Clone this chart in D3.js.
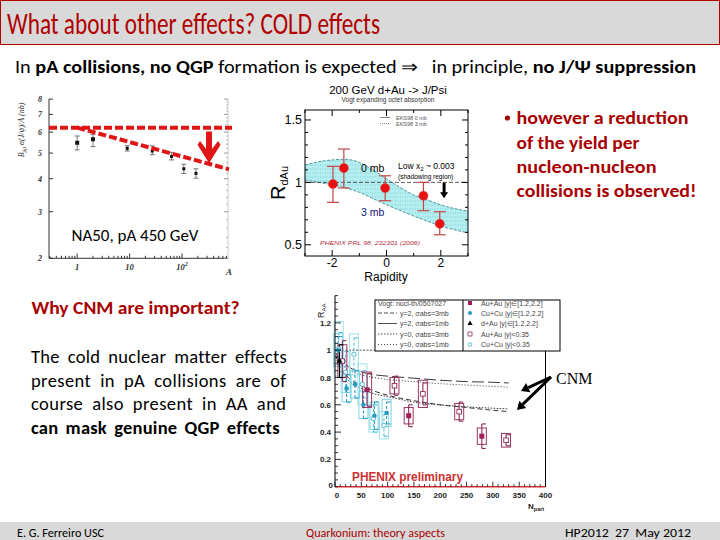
<!DOCTYPE html>
<html><head><meta charset="utf-8">
<script src="https://cdn.jsdelivr.net/npm/d3@7"></script>
<style>body{margin:0;background:#fff}svg{display:block}text{white-space:pre}</style>
</head><body>
<script>
// ================= DATA =================
const titleText = "What about other effects? COLD effects";
const subtitleParts = [["In ", false], ["pA collisions, no QGP", true], [" formation is expected ", false], ["\u21D2", false], ["   in principle, ", false], ["no J/\u03A8 suppression", true]];
const rightLines = ["however a reduction", "of the yield per", "nucleon-nucleon", "collisions is observed!"];
const leftHeading = "Why CNM are important?";
const leftLines = ["The cold nuclear matter effects", "present in pA collisions are of", "course also present in AA and", "can mask genuine QGP effects"];
const footer = ["E. G. Ferreiro USC", "Quarkonium: theory aspects", "HP2012  27  May 2012"];

// NA50 p-A 450 GeV
const na50A   = [1, 2, 9, 27, 63, 108, 184];
const na50Val = [5.47, 5.64, 5.21, 5.09, 4.85, 4.36, 4.19];
const na50Lo  = [5.14, 5.29, 5.09, 4.93, 4.71, 4.19, 4.02];
const na50Hi  = [5.80, 5.89, 5.33, 5.32, 5.03, 4.54, 4.36];
const na50YTicks = [2, 3, 4, 5, 6, 7, 8];
const na50XTicks = [1, 10, 100];
const na50XLabels = ["1", "10", "10"];
const na50RefA = [0.29, 896], na50RefV = [6.24, 6.24];
const na50TrendA = [1, 785], na50TrendV = [6.24, 4.34];
const na50ArrowA = 327, na50ArrowV = [6.03, 4.58];

// PHENIX d+Au RdAu vs rapidity
const dauY  = [-1.97, -1.57, -0.05, 1.36, 1.96];
const dauR  = [0.987, 1.115, 0.955, 0.893, 0.668];
const dauLo = [0.84, 0.955, 0.853, 0.773, 0.58];
const dauHi = [1.128, 1.267, 1.053, 1.0, 0.765];
const bandY    = [-3, -2.5, -2, -1.5, -1, -0.5, 0, 0.5, 1, 1.5, 2, 2.5, 3];
const band0mb  = [1.14, 1.165, 1.18, 1.185, 1.16, 1.1, 1.03, 0.96, 0.9, 0.86, 0.82, 0.79, 0.77];
const band3mb  = [1.02, 1.0, 0.98, 0.955, 0.92, 0.87, 0.82, 0.775, 0.73, 0.69, 0.65, 0.62, 0.595];
const dauYTicks = [0.5, 1, 1.5];
const dauXTicks = [-2, 0, 2];
const dauArrowY = 2.12, dauArrowR = [0.998, 0.872];

// PHENIX RAA vs Npart
const npCurveX = [2, 10, 25, 50, 75, 100, 150, 200, 250, 300, 330];
const y2_1mb = [0.98, 0.93, 0.88, 0.84, 0.82, 0.81, 0.795, 0.78, 0.77, 0.765, 0.76];
const y0_1mb = [0.97, 0.91, 0.86, 0.82, 0.80, 0.785, 0.77, 0.755, 0.745, 0.735, 0.73];
const y2_3mb = [0.96, 0.87, 0.80, 0.74, 0.70, 0.67, 0.63, 0.60, 0.58, 0.56, 0.55];
const y0_3mb = [0.95, 0.85, 0.78, 0.72, 0.68, 0.66, 0.62, 0.60, 0.585, 0.575, 0.57];
const auFwdN = [61, 140, 279],       auFwdR = [0.71, 0.52, 0.37],          auFwdE = [0.12, 0.08, 0.09],          auFwdS = [0.13, 0.06, 0.06];
const auMidN = [14, 113, 167, 236, 325], auMidR = [0.92, 0.74, 0.68, 0.55, 0.34], auMidE = [0.15, 0.07, 0.08, 0.07, 0.04], auMidS = [0.12, 0.06, 0.1, 0.06, 0.05];
const cuFwdN = [6, 22, 38, 54, 75, 98],  cuFwdR = [1.0, 0.72, 0.75, 0.6, 0.52, 0.54], cuFwdE = [0.1, 0.1, 0.1, 0.1, 0.1, 0.08], cuFwdS = [0.12, 0.1, 0.1, 0.1, 0.1, 0.1];
const cuMidN = [7, 20, 36, 52, 73, 93],  cuMidR = [1.01, 0.84, 0.97, 0.75, 0.5, 0.45], cuMidE = [0.12, 0.15, 0.12, 0.1, 0.1, 0.08], cuMidS = [0.2, 0.15, 0.15, 0.15, 0.1, 0.1];
const dAuN = [8.5], dAuR = [0.92], dAuE = [0.12];
const npXTicks = [0, 50, 100, 150, 200, 250, 300, 350, 400];
const npYTicks = [0.2, 0.4, 0.6, 0.8, 1, 1.2];
const legLeft = ["Vogt: nucl-th/0507027", "y=2, \u03C3abs=3mb", "y=2, \u03C3abs=1mb", "y=0, \u03C3abs=3mb", "y=0, \u03C3abs=1mb"];
const legRight = ["Au+Au |y|\u2208[1.2,2.2]", "Cu+Cu |y|\u2208[1.2,2.2]", "d+Au |y|\u2208[1.2,2.2]", "Au+Au |y|<0.35", "Cu+Cu |y|<0.35"];

// ================= DRAW =================
const SL = "Carlito, Calibri, Lato, 'Open Sans', sans-serif";
const AR = "'Liberation Sans', Arial, sans-serif";
const SER = "'Liberation Serif', 'DejaVu Serif', serif";
const RED = "#a80000";
const svg = d3.select("body").append("svg").attr("width", 720).attr("height", 540);

function T(g, x, y, s, o = {}) {
  const t = g.append("text").attr("x", x).attr("y", y).text(s)
    .attr("font-family", o.font || SL).attr("font-size", o.size || 12)
    .attr("fill", o.fill || "#000").attr("text-anchor", o.anchor || "start");
  if (o.weight) t.attr("font-weight", o.weight);
  if (o.style) t.attr("font-style", o.style);
  if (o.len) t.attr("textLength", o.len).attr("lengthAdjust", o.adj || "spacingAndGlyphs");
  return t;
}
function J(g, x, y, s, target, o = {}) {
  const t = T(g, x, y, s, o);
  const w = t.node().getComputedTextLength();
  const n = (s.match(/ /g) || []).length;
  if (n > 0 && w < target) {
    const extra = target - w;
    // share the gap between letter spacing and word spacing
    const chars = s.length - 1;
    t.attr("letter-spacing", (extra * 0.35) / chars).attr("word-spacing", (extra * 0.65) / n);
  } else if (w > target) t.attr("textLength", target).attr("lengthAdjust", "spacingAndGlyphs");
  return t;
}

// Title bar
svg.append("rect").attr("x", 0.5).attr("y", 0.5).attr("width", 719).attr("height", 44)
  .attr("fill", "#d9d9d9").attr("stroke", "#b00000").attr("stroke-width", 1);
T(svg, 7, 34, titleText, {size: 30, fill: "#b00000", len: 373});

// Subtitle
{
  const t = svg.append("text").attr("x", 15).attr("y", 73).attr("font-family", SL).attr("font-size", 18)
    .attr("textLength", 681).attr("lengthAdjust", "spacingAndGlyphs");
  subtitleParts.forEach(([s, b]) => t.append("tspan").text(s).attr("font-weight", b ? "bold" : "normal"));
}

// Right red text
svg.append("circle").attr("cx", 507.5).attr("cy", 118).attr("r", 2.6).attr("fill", RED);
const rlY = [124, 149, 173, 197], rlLen = [172, 123, 140, 180];
rightLines.forEach((s, i) => T(svg, 516.5, rlY[i], s, {size: 18, weight: "bold", fill: RED, len: rlLen[i]}));

// Left text
T(svg, 31.5, 314, leftHeading, {size: 17, weight: "bold", fill: RED, len: 208});
const llY = [363, 387, 410, 434], llLen = [255, 255, 255, 248];
leftLines.forEach((s, i) => J(svg, 31, llY[i], s, llLen[i], {size: 18.5, weight: i === 3 ? "bold" : "normal"}));

// Footer
svg.append("rect").attr("x", 0).attr("y", 522).attr("width", 720).attr("height", 18).attr("fill", "#d9d9d9");
T(svg, 17, 537, footer[0], {size: 12.5, len: 87});
T(svg, 306, 537, footer[1], {size: 12.5, fill: RED, len: 139});
T(svg, 565, 537, footer[2], {size: 12.5, len: 126});

// ============ NA50 plot ============
{
  const g = svg.append("g");
  const x = d3.scaleLog().domain([0.29, 752]).range([49, 228]);
  const y = d3.scaleLog().domain([2, 8]).range([258.3, 99.1]);
  const ax = "#333";
  g.append("line").attr("x1", 49).attr("x2", 49).attr("y1", 99).attr("y2", 258.3).attr("stroke", ax);
  g.append("line").attr("x1", 49).attr("x2", 228).attr("y1", 258.3).attr("y2", 258.3).attr("stroke", ax);
  g.append("line").attr("x1", 228).attr("x2", 228).attr("y1", 99).attr("y2", 258.3).attr("stroke", "#ccc");
  na50YTicks.forEach(v => {
    g.append("line").attr("x1", 49).attr("x2", 53).attr("y1", y(v)).attr("y2", y(v)).attr("stroke", ax);
    g.append("line").attr("x1", 224).attr("x2", 228).attr("y1", y(v)).attr("y2", y(v)).attr("stroke", "#999");
    T(g, 42, y(v) + 3, String(v), {font: SER, size: 8, style: "italic", weight: "bold", anchor: "end", fill: "#333"});
  });
  const yMinor = d3.range(2.2, 8, 0.2).filter(v => Math.abs(v - Math.round(v)) > 0.05);
  yMinor.forEach(v => g.append("line").attr("x1", 226).attr("x2", 228).attr("y1", y(v)).attr("y2", y(v)).attr("stroke", "#bbb"));
  const xMinor = [];
  [0.1, 1, 10, 100].forEach(d => d3.range(2, 10).forEach(k => { const v = d * k; if (v > 0.29 && v < 752) xMinor.push(v); }));
  xMinor.forEach(v => g.append("line").attr("x1", x(v)).attr("x2", x(v)).attr("y1", 258.3).attr("y2", 255.8).attr("stroke", ax));
  na50XTicks.forEach((v, i) => {
    g.append("line").attr("x1", x(v)).attr("x2", x(v)).attr("y1", 258.3).attr("y2", 253.5).attr("stroke", ax);
    const t = T(g, x(v), 270, na50XLabels[i], {font: SER, size: 8.5, style: "italic", weight: "bold", anchor: "middle", fill: "#333"});
    if (i === 2) t.append("tspan").attr("dy", -4).attr("font-size", 6).text("2");
  });
  T(g, 229, 275, "A", {font: SER, size: 9, style: "italic", weight: "bold", anchor: "middle", fill: "#333"});
  const yl = g.append("text").attr("transform", "translate(24,130) rotate(-90)").attr("text-anchor", "middle")
    .attr("font-family", SER).attr("font-size", 8).attr("font-style", "italic").attr("fill", "#333");
  yl.append("tspan").text("B");
  yl.append("tspan").attr("dy", 2).attr("font-size", 5.5).text("\u03BC\u03BC");
  yl.append("tspan").attr("dy", -2).text(" \u03C3(J/\u03C8)/A (nb)");
  na50A.forEach((a, i) => {
    g.append("line").attr("x1", x(a)).attr("x2", x(a)).attr("y1", y(na50Lo[i])).attr("y2", y(na50Hi[i])).attr("stroke", "#555").attr("stroke-width", 0.8);
    [na50Lo[i], na50Hi[i]].forEach(v => g.append("line").attr("x1", x(a) - 2.5).attr("x2", x(a) + 2.5).attr("y1", y(v)).attr("y2", y(v)).attr("stroke", "#555").attr("stroke-width", 0.8));
    const s = i < 2 ? 4 : 3;
    g.append("rect").attr("x", x(a) - s / 2).attr("y", y(na50Val[i]) - s / 2).attr("width", s).attr("height", s).attr("fill", "#111");
  });
  const ln = d3.line().x(d => x(d[0])).y(d => y(d[1]));
  g.append("path").attr("d", ln(na50RefA.map((a, i) => [a, na50RefV[i]]))).attr("stroke", "#e01515").attr("stroke-width", 4).attr("stroke-dasharray", "8,3").attr("fill", "none");
  g.append("path").attr("d", ln(na50TrendA.map((a, i) => [a, na50TrendV[i]]))).attr("stroke", "#e01515").attr("stroke-width", 4).attr("stroke-dasharray", "8,3").attr("fill", "none");
  const ax0 = x(na50ArrowA), top = y(na50ArrowV[0]), tip = y(na50ArrowV[1]);
  const hl = tip - top;
  const pts = [[ax0 - 3, top], [ax0 + 3, top], [ax0 + 3, top + hl * 0.55], [ax0 + 9, top + hl * 0.3], [ax0 + 11.5, top + hl * 0.42], [ax0, tip], [ax0 - 11.5, top + hl * 0.42], [ax0 - 9, top + hl * 0.3], [ax0 - 3, top + hl * 0.55]];
  g.append("polygon").attr("points", pts.map(p => p.join(",")).join(" ")).attr("fill", "#e01515");
  T(g, 71.5, 241, "NA50, pA 450 GeV", {size: 16, len: 127});
}

// ============ d+Au plot ============
{
  const g = svg.append("g");
  const x = d3.scaleLinear().domain([-3, 3]).range([305, 468]);
  const y = d3.scaleLinear().domain([0.41, 1.58]).range([256, 110]);
  const defs = svg.append("defs");
  const pat = defs.append("pattern").attr("id", "hatch").attr("patternUnits", "userSpaceOnUse").attr("width", 2.5).attr("height", 4);
  pat.append("rect").attr("width", 2.5).attr("height", 4).attr("fill", "#b4eef0");
  pat.append("line").attr("x1", 0.5).attr("x2", 0.5).attr("y1", 0).attr("y2", 2).attr("stroke", "#7fcfd6").attr("stroke-width", 0.6);
  g.append("rect").attr("x", 305).attr("y", 110).attr("width", 163).attr("height", 146).attr("fill", "#fff");
  const area = d3.area().x((d, i) => x(bandY[i])).y0((d, i) => y(band3mb[i])).y1(d => y(d)).curve(d3.curveMonotoneX);
  g.append("path").attr("d", area(band0mb)).attr("fill", "url(#hatch)");
  const cl = d3.line().x((d, i) => x(bandY[i])).y(d => y(d)).curve(d3.curveMonotoneX);
  [band0mb, band3mb].forEach(b => g.append("path").attr("d", cl(b)).attr("fill", "none").attr("stroke", "#2f7f86").attr("stroke-width", 0.8).attr("stroke-dasharray", "3,1.5"));
  g.append("line").attr("x1", x(-3)).attr("x2", x(3)).attr("y1", y(1)).attr("y2", y(1)).attr("stroke", "#333").attr("stroke-width", 0.8).attr("stroke-dasharray", "4,2");
  g.append("rect").attr("x", 305).attr("y", 110).attr("width", 163).attr("height", 146).attr("fill", "none").attr("stroke", "#000").attr("stroke-width", 1);
  d3.range(-3, 3.01, 1).forEach(v => {
    const L = dauXTicks.includes(v) ? 6 : 3;
    g.append("line").attr("x1", x(v)).attr("x2", x(v)).attr("y1", 256).attr("y2", 256 - L).attr("stroke", "#000");
    g.append("line").attr("x1", x(v)).attr("x2", x(v)).attr("y1", 110).attr("y2", 110 + L).attr("stroke", "#000");
  });
  d3.range(0.5, 1.58, 0.1).forEach(v => {
    const L = dauYTicks.some(t => Math.abs(t - v) < 1e-6) ? 6 : 3;
    g.append("line").attr("x1", 305).attr("x2", 305 + L).attr("y1", y(v)).attr("y2", y(v)).attr("stroke", "#000");
    g.append("line").attr("x1", 468).attr("x2", 468 - L).attr("y1", y(v)).attr("y2", y(v)).attr("stroke", "#000");
  });
  dauYTicks.forEach(v => T(g, 302, y(v) + 4.5, String(v), {font: AR, size: 12.5, anchor: "end"}));
  dauXTicks.forEach(v => T(g, x(v), 267, String(v), {font: AR, size: 12, anchor: "middle"}));
  T(g, 386, 281, "Rapidity", {font: AR, size: 12, anchor: "middle"});
  const yl = g.append("text").attr("transform", "translate(285,183) rotate(-90)").attr("text-anchor", "middle").attr("font-family", AR).attr("font-size", 20);
  yl.append("tspan").text("R");
  yl.append("tspan").attr("dy", 3).attr("font-size", 11).text("dAu");
  T(g, 388, 94, "200 GeV d+Au -> J/Psi", {font: AR, size: 11.5, anchor: "middle"});
  T(g, 388, 101.5, "Vogt expanding octet absorption", {font: AR, size: 6.5, anchor: "middle", fill: "#333"});
  g.append("line").attr("x1", 380).attr("x2", 390).attr("y1", 117.5).attr("y2", 117.5).attr("stroke", "#555").attr("stroke-width", 0.7);
  g.append("line").attr("x1", 380).attr("x2", 390).attr("y1", 123.5).attr("y2", 123.5).attr("stroke", "#555").attr("stroke-width", 0.7).attr("stroke-dasharray", "1,1");
  T(g, 396, 119.5, "EKS98 0 mb", {font: AR, size: 5.5, fill: "#555"});
  T(g, 396, 125.5, "EKS98 3 mb", {font: AR, size: 5.5, fill: "#555"});
  dauY.forEach((v, i) => {
    const c = "#c04848";
    g.append("line").attr("x1", x(v)).attr("x2", x(v)).attr("y1", y(dauLo[i])).attr("y2", y(dauHi[i])).attr("stroke", c).attr("stroke-width", 1.2);
    [dauLo[i], dauHi[i]].forEach(e => g.append("line").attr("x1", x(v) - 6).attr("x2", x(v) + 6).attr("y1", y(e)).attr("y2", y(e)).attr("stroke", c).attr("stroke-width", 1.2));
    g.append("circle").attr("cx", x(v)).attr("cy", y(dauR[i])).attr("r", 4.6).attr("fill", "#e81010").attr("stroke", "#d44").attr("stroke-width", 0.5);
  });
  T(g, 361, 172, "0 mb", {font: AR, size: 10.5});
  T(g, 361, 216, "3 mb", {font: AR, size: 10.5, fill: "#15157a"});
  const lx = T(g, 398, 169, "Low x", {font: AR, size: 8.5});
  lx.append("tspan").attr("dy", 2).attr("font-size", 6).text("2");
  lx.append("tspan").attr("dy", -2).text(" ~ 0.003");
  T(g, 398, 179, "(shadowing region)", {font: AR, size: 6.5});
  const axx = x(dauArrowY), t0 = y(dauArrowR[0]), t1 = y(dauArrowR[1]);
  g.append("line").attr("x1", axx).attr("x2", axx).attr("y1", t0).attr("y2", t1 - 5).attr("stroke", "#000").attr("stroke-width", 3);
  g.append("polygon").attr("points", `${axx - 4},${t1 - 6} ${axx + 4},${t1 - 6} ${axx},${t1}`).attr("fill", "#000");
  T(g, 320, 245, "PHENIX PRL 98, 232301 (2006)", {font: AR, size: 6, style: "italic", fill: "#b03040", len: 100});
}

// ============ RAA vs Npart plot ============
{
  const g = svg.append("g");
  const x = d3.scaleLinear().domain([0, 400]).range([335, 545.5]);
  const y = d3.scaleLinear().domain([0, 1.4]).range([486.7, 295.6]);
  const cl = d3.line().x((d, i) => x(npCurveX[i])).y(d => y(d)).curve(d3.curveMonotoneX);
  const curves = [[y2_3mb, "5,3"], [y2_1mb, "12,4"], [y0_3mb, "1.5,1.5"], [y0_1mb, "1,2"]];
  curves.forEach(([c, da]) => g.append("path").attr("d", cl(c)).attr("fill", "none").attr("stroke", "#222").attr("stroke-width", 0.9).attr("stroke-dasharray", da));
  g.append("line").attr("x1", x(0)).attr("x2", x(75)).attr("y1", y(1)).attr("y2", y(1)).attr("stroke", "#222").attr("stroke-width", 0.8).attr("stroke-dasharray", "2,1.5");
  function series(N, R, E, S, col, boxCol, dashed) {
    N.forEach((n, i) => {
      if (S) g.append("rect").attr("x", x(n) - 4.5).attr("y", y(R[i] + S[i])).attr("width", 9).attr("height", y(R[i] - S[i]) - y(R[i] + S[i]))
        .attr("fill", "none").attr("stroke", boxCol).attr("stroke-width", 1);
      const l = g.append("line").attr("x1", x(n)).attr("x2", x(n)).attr("y1", y(R[i] - E[i])).attr("y2", y(R[i] + E[i])).attr("stroke", col).attr("stroke-width", 1.1);
      if (dashed) l.attr("stroke-dasharray", "3,2");
      [R[i] - E[i], R[i] + E[i]].forEach(e => g.append("line").attr("x1", x(n)).attr("x2", x(n) + 4).attr("y1", y(e)).attr("y2", y(e)).attr("stroke", col).attr("stroke-width", 1.1));
    });
  }
  series(cuMidN, cuMidR, cuMidE, cuMidS, "#58c0d8", "#9ee0ea", true);
  series(cuFwdN, cuFwdR, cuFwdE, cuFwdS, "#2a9cc0", "#7fd4e2", true);
  series(auMidN, auMidR, auMidE, auMidS, "#8a2a58", "#9b3462", false);
  series(auFwdN, auFwdR, auFwdE, auFwdS, "#8a2a58", "#9b3462", false);
  series(dAuN, dAuR, dAuE, null, "#000", null, false);
  cuMidN.forEach((n, i) => g.append("circle").attr("cx", x(n)).attr("cy", y(cuMidR[i])).attr("r", 2.2).attr("fill", "#fff").attr("stroke", "#40b0cc").attr("stroke-width", 0.9));
  cuFwdN.forEach((n, i) => g.append("circle").attr("cx", x(n)).attr("cy", y(cuFwdR[i])).attr("r", 2.3).attr("fill", "#2a9cc0"));
  auMidN.forEach((n, i) => g.append("rect").attr("x", x(n) - 2.3).attr("y", y(auMidR[i]) - 2.3).attr("width", 4.6).attr("height", 4.6).attr("fill", "#fff").attr("stroke", "#8a2a58").attr("stroke-width", 0.9));
  auFwdN.forEach((n, i) => g.append("rect").attr("x", x(n) - 2.5).attr("y", y(auFwdR[i]) - 2.5).attr("width", 5).attr("height", 5).attr("fill", "#a0205a"));
  dAuN.forEach((n, i) => g.append("path").attr("d", d3.symbol(d3.symbolTriangle, 16)()).attr("transform", `translate(${x(n)},${y(dAuR[i])})`).attr("fill", "#000"));
  g.append("line").attr("x1", 335).attr("x2", 335).attr("y1", 295.6).attr("y2", 486.7).attr("stroke", "#000");
  g.append("line").attr("x1", 545.5).attr("x2", 545.5).attr("y1", 351).attr("y2", 486.7).attr("stroke", "#000");
  g.append("line").attr("x1", 335).attr("x2", 545.5).attr("y1", 486.7).attr("y2", 486.7).attr("stroke", "#d03030").attr("stroke-width", 1.5);
  d3.range(0, 401, 10).forEach(v => {
    const L = npXTicks.includes(v) ? 5 : 2.5;
    g.append("line").attr("x1", x(v)).attr("x2", x(v)).attr("y1", 486.7).attr("y2", 486.7 - L).attr("stroke", "#000").attr("stroke-width", 0.8);
  });
  npXTicks.forEach(v => T(g, x(v) + (v === 0 ? 2 : 0), 497.5, String(v), {font: AR, size: 8, weight: "bold", anchor: "middle", fill: "#222"}));
  d3.range(0, 1.41, 0.05).forEach(v => {
    const L = npYTicks.some(t => Math.abs(t - v) < 1e-6) ? 6 : 3;
    g.append("line").attr("x1", 335).attr("x2", 335 + L).attr("y1", y(v)).attr("y2", y(v)).attr("stroke", "#000").attr("stroke-width", 0.8);
  });
  npYTicks.forEach(v => T(g, 331, y(v) + 3, String(v), {font: AR, size: 8, weight: "bold", anchor: "end", fill: "#222"}));
  T(g, 333, 488, "0", {font: AR, size: 8, weight: "bold", anchor: "end", fill: "#222"});
  const yl = g.append("text").attr("transform", "translate(324,318) rotate(-90)").attr("font-family", AR).attr("font-size", 9).attr("fill", "#222");
  yl.append("tspan").text("R");
  yl.append("tspan").attr("dy", 2).attr("font-size", 6).text("AA");
  const xl = T(g, 528, 509, "N", {font: AR, size: 8, weight: "bold", fill: "#222"});
  xl.append("tspan").attr("dy", 2).attr("font-size", 5.5).text("part");
  T(g, 352, 481, "PHENIX preliminary", {font: AR, size: 12.5, weight: "bold", fill: "#cc3030", len: 111});
  g.append("rect").attr("x", 375).attr("y", 300).attr("width", 185).attr("height", 51).attr("fill", "#fff").attr("stroke", "#000").attr("stroke-width", 1);
  g.append("line").attr("x1", 463).attr("x2", 463).attr("y1", 300).attr("y2", 351).attr("stroke", "#000");
  const ly = [305.5, 315.5, 326, 336.5, 347];
  const legDash = [null, "4,2", null, "1.5,1.5", "1,2"];
  legLeft.forEach((s, i) => {
    if (i > 0) g.append("line").attr("x1", 378).attr("x2", 397).attr("y1", ly[i] - 2.5).attr("y2", ly[i] - 2.5).attr("stroke", "#222").attr("stroke-width", 0.8).attr("stroke-dasharray", legDash[i]);
    T(g, i === 0 ? 378 : 400, ly[i], s, {font: AR, size: 7, fill: "#444"});
  });
  legRight.forEach((s, i) => T(g, 481, ly[i], s, {font: AR, size: 7, fill: "#444"}));
  const mk = (i) => [470, ly[i] - 2.5];
  g.append("rect").attr("x", mk(0)[0] - 2).attr("y", mk(0)[1] - 2).attr("width", 4).attr("height", 4).attr("fill", "#a0205a");
  g.append("circle").attr("cx", mk(1)[0]).attr("cy", mk(1)[1]).attr("r", 2).attr("fill", "#2a9cc0");
  g.append("path").attr("d", d3.symbol(d3.symbolTriangle, 12)()).attr("transform", `translate(${mk(2)[0]},${mk(2)[1]})`).attr("fill", "#000");
  g.append("rect").attr("x", mk(3)[0] - 2).attr("y", mk(3)[1] - 2).attr("width", 4).attr("height", 4).attr("fill", "none").attr("stroke", "#8a2a58").attr("stroke-width", 0.8);
  g.append("circle").attr("cx", mk(4)[0]).attr("cy", mk(4)[1]).attr("r", 1.8).attr("fill", "none").attr("stroke", "#40b0cc").attr("stroke-width", 0.8);
  const start = [551, 377];
  [[521, 391], [517, 410]].forEach(e => {
    const dx = e[0] - start[0], dy = e[1] - start[1], len = Math.hypot(dx, dy), ux = dx / len, uy = dy / len;
    const bx = e[0] - ux * 8, by = e[1] - uy * 8;
    g.append("line").attr("x1", start[0]).attr("y1", start[1]).attr("x2", bx).attr("y2", by).attr("stroke", "#000").attr("stroke-width", 3);
    g.append("polygon").attr("points", `${e[0]},${e[1]} ${bx - uy * 5},${by + ux * 5} ${bx + uy * 5},${by - ux * 5}`).attr("fill", "#000");
  });
  T(g, 556, 384, "CNM", {font: SER, size: 16});
}
</script>
</body></html>
